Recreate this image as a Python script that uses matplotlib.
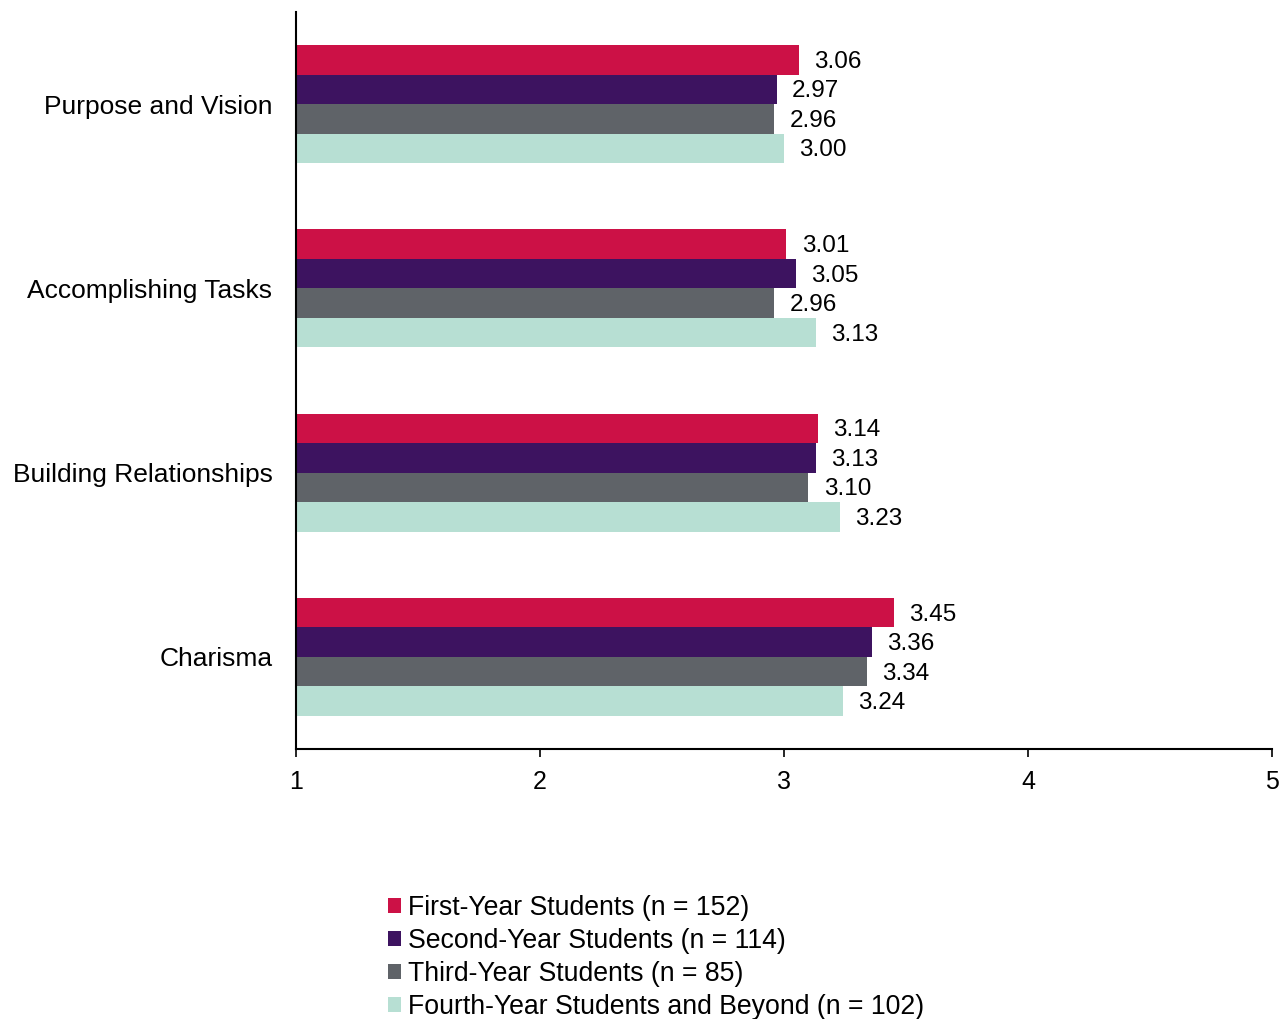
import numpy as np
import matplotlib
matplotlib.use("Agg")
from matplotlib import pyplot as plt

plt.rcParams['font.family'] = ['Liberation Sans', 'DejaVu Sans']

categories = ["Purpose and Vision", "Accomplishing Tasks", "Building Relationships", "Charisma"]
series_names = [
    "First-Year Students (n = 152)",
    "Second-Year Students (n = 114)",
    "Third-Year Students (n = 85)",
    "Fourth-Year Students and Beyond (n = 102)",
]
first_year = [3.06, 3.01, 3.14, 3.45]
second_year = [2.97, 3.05, 3.13, 3.36]
third_year = [2.96, 2.96, 3.10, 3.34]
fourth_year = [3.00, 3.13, 3.23, 3.24]
colors = ["#CC1146", "#3D1360", "#5F6368", "#B7DFD3"]

fig = plt.figure(figsize=(12.87, 10.19), dpi=100)
ax = fig.add_axes([296 / 1287, 1 - 749 / 1019, (1272 - 296) / 1287, (749 - 12) / 1019])

bar_h = 0.16
y = np.arange(len(categories))
all_series = [first_year, second_year, third_year, fourth_year]
for i, (vals, name, col) in enumerate(zip(all_series, series_names, colors)):
    pos = y + (i - 1.5) * bar_h
    ax.barh(pos, np.array(vals) - 1, left=1, height=bar_h, color=col, label=name)
    for p, v in zip(pos, vals):
        ax.annotate(f"{v:.2f}", (v, p), xytext=(11, -1.5), textcoords="offset points",
                    va="center", ha="left", fontsize=17.5)

ax.set_xlim(1, 5)
ax.set_ylim(3.5, -0.5)
ax.set_xticks([1, 2, 3, 4, 5])
ax.set_yticks(y)
ax.set_yticklabels(categories, fontsize=19)
ax.tick_params(axis='y', length=0, pad=17)
ax.tick_params(axis='x', labelsize=18, length=6, width=1.2, pad=9)
for s in ["top", "right"]:
    ax.spines[s].set_visible(False)
ax.spines["left"].set_linewidth(1.5)
ax.spines["bottom"].set_linewidth(1.5)

fig.legend(loc="upper left", bbox_to_anchor=(388 / 1287, 1 - 895 / 1019), frameon=False,
           fontsize=19.2, handlelength=0.5, handleheight=0.5, handletextpad=0.25,
           labelspacing=0.265, borderpad=0, borderaxespad=0)

fig.savefig("out.png", dpi=100)
